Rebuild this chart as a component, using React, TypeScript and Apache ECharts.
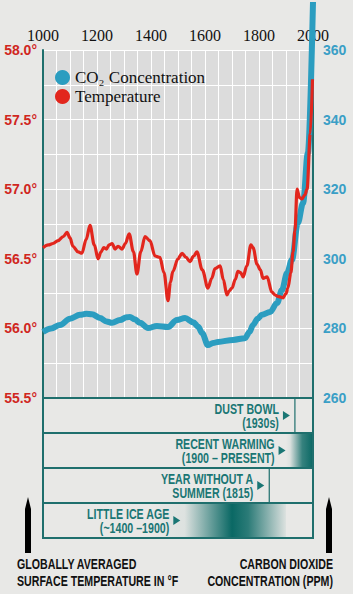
import React, { useEffect, useRef } from 'react';
import * as echarts from 'echarts';

// ---- data ----
const tempYears = [1000, 1020, 1037, 1056, 1075, 1089, 1100, 1111, 1130, 1144, 1160, 1174, 1190, 1204, 1215, 1225, 1235, 1245, 1256, 1267, 1278, 1293, 1305, 1319, 1335, 1348, 1362, 1378, 1396, 1415, 1433, 1448, 1463, 1472, 1481, 1500, 1515, 1530, 1544, 1558, 1570, 1590, 1611, 1625, 1637, 1656, 1668, 1681, 1690, 1700, 1712, 1722, 1732, 1741, 1755, 1770, 1778, 1793, 1805, 1815, 1830, 1848, 1860, 1870, 1889, 1900, 1907, 1918, 1926, 1933, 1941, 1950, 1959, 1970, 1978, 1990, 1998];
const tempValues = [56.58, 56.6, 56.61, 56.63, 56.66, 56.69, 56.65, 56.59, 56.55, 56.54, 56.64, 56.74, 56.6, 56.5, 56.55, 56.58, 56.57, 56.6, 56.61, 56.57, 56.59, 56.57, 56.61, 56.68, 56.55, 56.39, 56.55, 56.66, 56.63, 56.52, 56.51, 56.4, 56.2, 56.33, 56.41, 56.5, 56.54, 56.51, 56.48, 56.52, 56.55, 56.42, 56.29, 56.36, 56.43, 56.45, 56.35, 56.24, 56.27, 56.29, 56.35, 56.41, 56.4, 56.37, 56.45, 56.6, 56.58, 56.46, 56.42, 56.36, 56.37, 56.26, 56.24, 56.23, 56.22, 56.25, 56.29, 56.4, 56.55, 56.7, 57.0, 56.94, 56.93, 56.96, 57.0, 57.4, 57.79];

const co2Years = [1000, 1030, 1063, 1100, 1137, 1160, 1181, 1211, 1235, 1256, 1285, 1310, 1322, 1340, 1359, 1389, 1422, 1463, 1496, 1526, 1556, 1575, 1589, 1611, 1630, 1648, 1704, 1748, 1765, 1778, 1795, 1811, 1841, 1867, 1885, 1904, 1922, 1944, 1963, 1981, 2000];
const co2Values = [279.0, 280.0, 281.0, 282.8, 283.9, 284.2, 284.1, 283.0, 282.0, 281.6, 282.4, 283.2, 283.3, 282.6, 281.6, 280.1, 280.7, 280.4, 282.4, 283.0, 281.8, 280.5, 278.7, 275.2, 275.8, 276.1, 276.7, 277.2, 279.0, 281.0, 282.8, 283.9, 284.7, 287.3, 291.0, 295.9, 299.7, 310.3, 316.0, 330.4, 373.8];

const yearLabels = [1000, 1200, 1400, 1600, 1800, 2000];
const tempLabels = [55.5, 56.0, 56.5, 57.0, 57.5, 58.0];

const eventNames = ['DUST BOWL\n(1930s)', 'RECENT WARMING\n(1900 – PRESENT)', 'YEAR WITHOUT A\nSUMMER (1815)', 'LITTLE ICE AGE\n(~1400 –1900)'];
const eventKinds = ['line', 'rise', 'line', 'band'];
const eventStart = [1933, 1900, 1838, 1400];
const eventEnd = [1933, 2000, 1838, 1900];
const eventPointer = [1933, 1917, 1838, 1527];

const CO2_NAME = 'CO₂ Concentration';
const TEMP_NAME = 'Temperature';

const TEAL = '#1f6f6d';
const TEAL_TEXT = '#1a7674';
const DARK = 'rgba(10,104,100,';
const SANS = "'Liberation Sans', Arial, sans-serif";
const SERIF = "'Liberation Serif', 'DejaVu Serif', serif";

export default function App() {
  const ref = useRef<HTMLDivElement>(null);

  useEffect(() => {
    document.body.style.margin = '0';
    document.body.style.background = '#e8e8e6';
    const chart = echarts.init(ref.current!, undefined, { renderer: 'svg' });

    const renderEvent = (params: any, api: any) => {
      const i = params.dataIndex;
      const idx = api.value(1);
      const start = api.value(0);
      const end = api.value(2);
      const pointer = api.value(3);
      const cL = api.coord([1000, idx]);
      const cR = api.coord([2000, idx]);
      const h = api.size([0, 1])[1];
      const top = cL[1] - h / 2;
      const cy = cL[1];
      const children: any[] = [];
      const kind = eventKinds[i];
      const xs = api.coord([start, idx])[0];
      const xe = api.coord([end, idx])[0];
      if (kind === 'line') {
        children.push({
          type: 'line',
          shape: { x1: xs, y1: top, x2: xs, y2: top + h },
          style: { stroke: TEAL, lineWidth: 1.2 },
        });
      } else if (kind === 'rise') {
        children.push({
          type: 'rect',
          shape: { x: xs, y: top, width: xe - xs, height: h },
          style: {
            fill: new echarts.graphic.LinearGradient(0, 0, 1, 0, [
              { offset: 0, color: DARK + '0)' },
              { offset: 0.15, color: DARK + '0.05)' },
              { offset: 0.6, color: DARK + '0.8)' },
              { offset: 1, color: DARK + '1)' },
            ]),
          },
        });
      } else {
        children.push({
          type: 'rect',
          shape: { x: xs, y: top, width: xe - xs, height: h },
          style: {
            fill: new echarts.graphic.LinearGradient(0, 0, 1, 0, [
              { offset: 0, color: DARK + '0)' },
              { offset: 0.25, color: DARK + '0.05)' },
              { offset: 0.45, color: DARK + '0.6)' },
              { offset: 0.6, color: DARK + '1)' },
              { offset: 0.72, color: DARK + '0.85)' },
              { offset: 1, color: DARK + '0.05)' },
            ]),
          },
        });
      }
      children.push({
        type: 'rect',
        shape: { x: cL[0], y: top, width: cR[0] - cL[0], height: h },
        style: { fill: 'none', stroke: TEAL, lineWidth: 2 },
      });
      const tip = api.coord([pointer, idx])[0] - 5;
      children.push({
        type: 'polygon',
        shape: { points: [[tip - 7, cy - 4.5], [tip, cy], [tip - 7, cy + 4.5]] },
        style: { fill: TEAL_TEXT },
      });
      children.push({
        type: 'text',
        x: tip - 11,
        y: cy + 1,
        scaleX: 0.76,
        style: {
          text: eventNames[i],
          align: 'right',
          verticalAlign: 'middle',
          fill: TEAL_TEXT,
          font: `bold 14px ${SANS}`,
          lineHeight: 14,
        },
      });
      return { type: 'group', children };
    };

    const option: any = {
      animation: false,
      backgroundColor: '#e8e8e6',
      textStyle: { fontFamily: SANS },
      grid: [
        { left: 43, right: 40, top: 50, bottom: 196, show: true, backgroundColor: '#dcdcdc', borderWidth: 0 },
        { left: 43, right: 40, top: 398, bottom: 56, show: false },
      ],
      legend: {
        left: 50,
        top: 64,
        orient: 'vertical',
        icon: 'circle',
        itemWidth: 15,
        itemHeight: 15,
        itemGap: 2,
        data: [CO2_NAME, TEMP_NAME],
        textStyle: { fontFamily: SERIF, fontSize: 17, color: '#111' },
      },
      xAxis: [
        {
          type: 'value',
          gridIndex: 0,
          position: 'top',
          min: 1000,
          max: 2000,
          interval: 50,
          axisLine: { show: false },
          axisTick: { show: false },
          splitLine: { show: true, lineStyle: { color: '#ffffff', width: 1 } },
          axisLabel: {
            showMinLabel: true,
            showMaxLabel: true,
            margin: 7,
            color: '#111',
            fontFamily: SERIF,
            fontSize: 16,
            formatter: (v: number) => (yearLabels.indexOf(v) >= 0 ? String(v) : ''),
          },
        },
        { type: 'value', gridIndex: 1, min: 1000, max: 2000, show: false },
      ],
      yAxis: [
        {
          type: 'value',
          gridIndex: 0,
          min: 55.5,
          max: 58,
          interval: 0.25,
          axisLine: { show: true, lineStyle: { color: TEAL, width: 2 } },
          axisTick: { show: false },
          splitLine: { show: true, lineStyle: { color: '#ffffff', width: 1 } },
          axisLabel: {
            margin: 6,
            color: '#d0271e',
            fontFamily: SANS,
            fontWeight: 'bold',
            fontSize: 14,
            formatter: (v: number) => {
              const t = tempLabels.find((l) => Math.abs(l - v) < 1e-6);
              return t !== undefined ? t.toFixed(1) + '°' : '';
            },
          },
        },
        {
          type: 'value',
          gridIndex: 0,
          position: 'right',
          min: 260,
          max: 360,
          interval: 20,
          axisLine: { show: true, lineStyle: { color: TEAL, width: 2 } },
          axisTick: { show: false },
          splitLine: { show: false },
          axisLabel: {
            margin: 10,
            color: '#3a9fc6',
            fontFamily: SANS,
            fontWeight: 'bold',
            fontSize: 14,
          },
        },
        {
          type: 'category',
          gridIndex: 1,
          inverse: true,
          data: eventNames,
          show: false,
        },
      ],
      series: [
        {
          name: CO2_NAME,
          type: 'line',
          xAxisIndex: 0,
          yAxisIndex: 1,
          data: co2Years.map((y, i) => [y, co2Values[i]]),
          smooth: 0.35,
          smoothMonotone: 'x',
          symbol: 'none',
          clip: false,
          color: '#2b9dc0',
          lineStyle: { color: '#2b9dc0', width: 6 },
          z: 3,
        },
        {
          name: TEMP_NAME,
          type: 'line',
          xAxisIndex: 0,
          yAxisIndex: 0,
          data: tempYears.map((y, i) => [y, tempValues[i]]),
          smooth: 0.35,
          smoothMonotone: 'x',
          symbol: 'none',
          clip: false,
          color: '#e2261d',
          lineStyle: { color: '#e2261d', width: 3.2 },
          z: 4,
        },
        {
          type: 'custom',
          xAxisIndex: 1,
          yAxisIndex: 2,
          renderItem: renderEvent,
          encode: { x: [0, 2], y: 1 },
          data: eventNames.map((_, i) => [eventStart[i], i, eventEnd[i], eventPointer[i]]),
          silent: true,
          clip: false,
        },
      ],
      graphic: [
        {
          type: 'polygon',
          shape: { points: [[28, 497], [31, 509], [31, 553], [25, 553], [25, 509]] },
          style: { fill: '#000' },
        },
        {
          type: 'polygon',
          shape: { points: [[329, 497], [332, 509], [332, 553], [326, 553], [326, 509]] },
          style: { fill: '#000' },
        },
        {
          type: 'text',
          x: 17,
          y: 556,
          scaleX: 0.76,
          style: {
            text: 'GLOBALLY AVERAGED\nSURFACE TEMPERATURE IN °F',
            align: 'left',
            verticalAlign: 'top',
            fill: '#111',
            font: `bold 14px ${SANS}`,
            lineHeight: 17,
          },
        },
        {
          type: 'text',
          x: 333,
          y: 556,
          scaleX: 0.76,
          style: {
            text: 'CARBON DIOXIDE\nCONCENTRATION (PPM)',
            align: 'right',
            verticalAlign: 'top',
            fill: '#111',
            font: `bold 14px ${SANS}`,
            lineHeight: 17,
          },
        },
      ],
    };

    chart.setOption(option);
    return () => chart.dispose();
  }, []);

  return (
    <div
      ref={ref}
      style={{ position: 'fixed', left: 0, top: 0, width: 353, height: 594, background: '#e8e8e6' }}
    />
  );
}
